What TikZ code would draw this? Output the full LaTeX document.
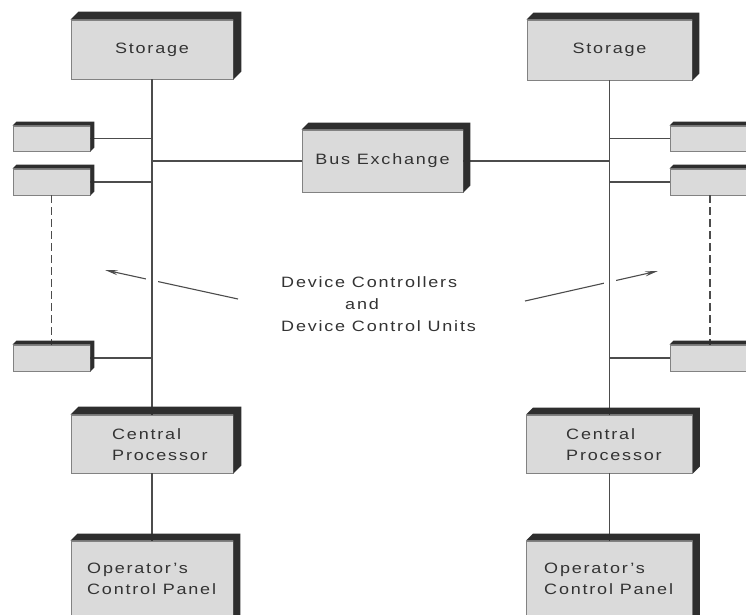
\documentclass[tikz,border=0pt]{standalone}
\usepackage{fontspec}
\setmainfont{Liberation Sans}[LetterSpace=12,FakeStretch=1.2]
\usetikzlibrary{arrows.meta,calc}
\definecolor{boxgray}{HTML}{DADADA}
\definecolor{edgedark}{HTML}{2E2E2E}
\definecolor{ink}{HTML}{4C4C4C}
\definecolor{txt}{HTML}{333333}
\newcommand\extrude[2]{%
  \fill[edgedark] (#1.north west) -- ++(#2,-#2) -- ($(#1.north east)+(#2,-#2)$)
    -- ($(#1.south east)+(#2,-#2)$) -- (#1.south east) -- (#1.north east) -- cycle;}
\begin{document}
\begin{tikzpicture}[x=1pt,y=-1pt,
  face/.style={draw=ink!70, line width=0.8pt, fill=boxgray, rectangle, inner sep=0pt,
    font=\fontsize{15}{21}\selectfont, text=txt},
  wh/.style 2 args={minimum width=#1pt, minimum height=#2pt},
  lbl/.style={inner sep=0pt, align=left, text=txt, font=\fontsize{15}{21}\selectfont},
  wire/.style={draw=ink, line width=1.3pt},
  buswire/.style={wire, preaction={draw=white, line width=12pt, shorten <=2pt, shorten >=2pt}},
  dashwire/.style={wire, dash pattern=on 8pt off 4pt},
  arr/.style={draw=ink, line width=1.1pt, -{Stealth[length=13pt,width=5pt]}}]
\clip (0,0) rectangle (746,614);
\fill[white] (0,0) rectangle (746,614);

% left column
\node[face, wh={162}{59}] (stL) at (152,49.5) {Storage};
\node[face, wh={162}{58}] (cpL) at (152,444) {};
\node[face, wh={162}{84}] (opL) at (152,583) {};
\node[face, wh={77}{25}] (dL1) at (51.5,138.5) {};
\node[face, wh={77}{26}] (dL2) at (51.5,182) {};
\node[face, wh={77}{26}] (dL3) at (51.5,358) {};
% right column
\node[face, wh={165}{60}] (stR) at (609.5,50) {Storage};
\node[face, wh={166}{58}] (cpR) at (609.5,444) {};
\node[face, wh={166}{84}] (opR) at (609.5,583) {};
\node[face, wh={80}{25}] (dR1) at (710,138.5) {};
\node[face, wh={80}{26}] (dR2) at (710,182) {};
\node[face, wh={80}{26}] (dR3) at (710,358) {};
% bus exchange
\node[face, wh={161}{62}] (bx) at (382.5,161) {Bus Exchange};

% texts
\node[lbl, anchor=west] (cpLt) at (112,444.5) {Central\\Processor};
\node[lbl, anchor=west] (opLt) at (87,579) {Operator's\\Control Panel};
\node[lbl, anchor=west] (cpRt) at (566,444.5) {Central\\Processor};
\node[lbl, anchor=west] (opRt) at (544,579) {Operator's\\Control Panel};
\node[lbl, anchor=west, font=\fontsize{15}{22}\selectfont] (dc) at (281,304)
  {Device Controllers\\\hspace*{64pt}and\\Device Control Units};

% arrows
\coordinate (aL0) at (238,299);
\coordinate (aL1) at (105,270);
\coordinate (aR0) at (525,301);
\coordinate (aR1) at (658,271);
\draw[arr] (aL0) -- (aL1);
\draw[arr] (aR0) -- (aR1);

% buses
\draw[buswire] (stL.south) -- (cpL.north);
\draw[wire] (cpL.south) -- (opL.north);
\draw[buswire] (stR.south) -- (cpR.north);
\draw[wire] (cpR.south) -- (opR.north);
\draw[wire] (bx.west) -- (bx.west -| stL.south);
\draw[wire] (bx.east) -- (bx.east -| stR.south);
\draw[wire] (dL1.east) -- (dL1.east -| stL.south);
\draw[wire] (dL2.east) -- (dL2.east -| stL.south);
\draw[wire] (dL3.east) -- (dL3.east -| stL.south);
\draw[wire] (dR1.west) -- (dR1.west -| stR.south);
\draw[wire] (dR2.west) -- (dR2.west -| stR.south);
\draw[wire] (dR3.west) -- (dR3.west -| stR.south);
\draw[dashwire] (dL2.south) -- (dL3.north);
\draw[dashwire] (dR2.south) -- (dR3.north);

% 3-D edges of the boxes
\extrude{stL}{8}\extrude{cpL}{8}\extrude{opL}{7}
\extrude{stR}{7}\extrude{cpR}{7}\extrude{opR}{7}
\extrude{bx}{7}
\extrude{dL1}{4}\extrude{dL2}{4}\extrude{dL3}{4}
\extrude{dR1}{4}\extrude{dR2}{4}\extrude{dR3}{4}
\end{tikzpicture}
\end{document}
